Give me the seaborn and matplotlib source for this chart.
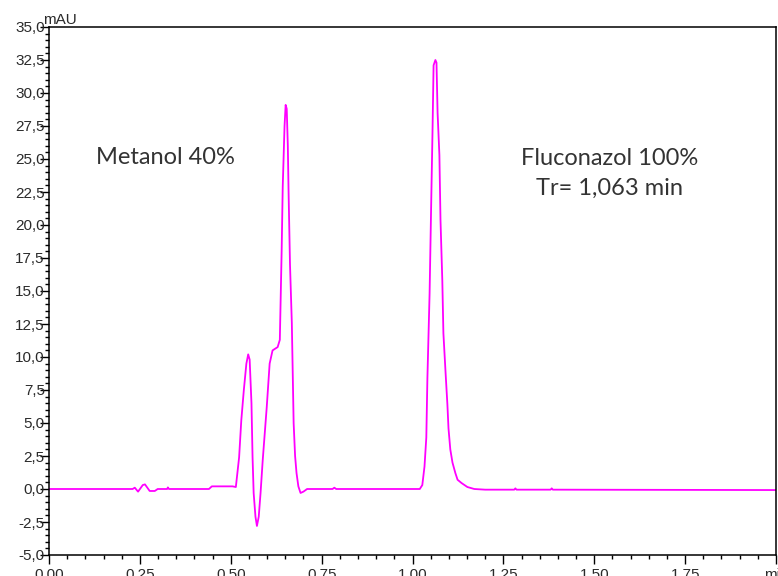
import matplotlib
matplotlib.use("Agg")
import matplotlib.pyplot as plt
import seaborn as sns
import pandas as pd
from matplotlib.ticker import MultipleLocator, FixedLocator

# ---- data ----
time_min = [0.0, 0.23, 0.236, 0.245, 0.258, 0.264, 0.277, 0.291, 0.299, 0.325, 0.327, 0.33,
            0.44, 0.448, 0.505, 0.514, 0.523, 0.529, 0.536, 0.543, 0.548, 0.552, 0.557,
            0.560, 0.563, 0.568, 0.572, 0.577, 0.582, 0.588, 0.599, 0.607, 0.615, 0.629,
            0.635, 0.640, 0.643, 0.648, 0.651, 0.654, 0.657, 0.659, 0.663, 0.668, 0.673,
            0.677, 0.681, 0.686, 0.692, 0.70, 0.71, 0.723, 0.78, 0.785, 0.79,
            1.02, 1.027, 1.033, 1.038, 1.041, 1.047, 1.052, 1.055, 1.058, 1.063, 1.066,
            1.069, 1.074, 1.077, 1.082, 1.085, 1.091, 1.096, 1.099, 1.104, 1.110, 1.118,
            1.124, 1.135, 1.151, 1.17, 1.2, 1.28, 1.283, 1.286, 1.38, 1.383, 1.386, 2.0]
signal_mau = [0.0, 0.0, 0.1, -0.2, 0.3, 0.35, -0.15, -0.15, 0.0, 0.0, 0.12, 0.0,
              0.0, 0.2, 0.2, 0.15, 2.4, 5.2, 7.5, 9.5, 10.2, 9.8, 6.5,
              2.4, -0.3, -2.1, -2.8, -2.1, -0.3, 2.2, 6.2, 9.5, 10.5, 10.75,
              11.3, 18.0, 22.9, 27.5, 29.1, 28.8, 26.0, 22.6, 17.0, 12.6, 5.0,
              2.5, 1.2, 0.2, -0.3, -0.2, 0.0, 0.0, 0.0, 0.1, 0.0,
              0.0, 0.3, 1.7, 3.9, 8.4, 14.8, 22.5, 27.0, 32.1, 32.5, 32.3,
              28.5, 25.3, 20.4, 15.8, 11.8, 8.8, 6.4, 4.6, 3.0, 2.0, 1.2,
              0.7, 0.45, 0.15, 0.0, -0.05, -0.05, 0.05, -0.05, -0.05, 0.05, -0.05, -0.08]

x_tick_values = [0.0, 0.25, 0.5, 0.75, 1.0, 1.25, 1.5, 1.75, 2.0]
x_tick_labels = ["0.00", "0.25", "0.50", "0.75", "1.00", "1.25", "1.50", "1.75", "min"]
y_tick_values = [-5.0, -2.5, 0.0, 2.5, 5.0, 7.5, 10.0, 12.5, 15.0, 17.5, 20.0,
                 22.5, 25.0, 27.5, 30.0, 32.5, 35.0]
y_tick_labels = ["-5,0", "-2,5", "0,0", "2,5", "5,0", "7,5", "10,0", "12,5", "15,0",
                 "17,5", "20,0", "22,5", "25,0", "27,5", "30,0", "32,5", "35,0"]
y_unit = "mAU"
label_left = "Metanol 40%"
label_right = "Fluconazol 100%\nTr= 1,063 min"

df = pd.DataFrame({"t": time_min, "mAU": signal_mau})

sns.set_style("white")
plt.rcParams["font.family"] = ["Liberation Sans", "DejaVu Sans"]

fig = plt.figure(figsize=(7.78, 5.76), dpi=100)
ax = fig.add_axes([49 / 778, 1 - 555 / 576, (776 - 49) / 778, (555 - 27) / 576])

sns.lineplot(data=df, x="t", y="mAU", color="#FF00FF", linewidth=1.3, ax=ax,
             estimator=None, sort=False)

ax.set_xlim(0, 2.0)
ax.set_ylim(-5, 35)
ax.set_xlabel("")
ax.set_ylabel("")

ax.xaxis.set_major_locator(FixedLocator(x_tick_values))
ax.set_xticklabels(x_tick_labels)
ax.xaxis.set_minor_locator(MultipleLocator(0.05))
ax.yaxis.set_major_locator(FixedLocator(y_tick_values))
ax.set_yticklabels(y_tick_labels)
ax.yaxis.set_minor_locator(MultipleLocator(0.5))

for s in ax.spines.values():
    s.set_visible(True)
    s.set_color("black")
    s.set_linewidth(1.1)

ax.tick_params(axis="both", which="major", direction="out", length=6.5, width=1.0,
               color="black", labelsize=11, labelcolor="#2a2a2a")
ax.tick_params(axis="both", which="minor", direction="out", length=3.2, width=1.0,
               color="black")
ax.tick_params(axis="y", which="major", pad=-3.5)
ax.tick_params(axis="x", which="major", pad=3)
ax.tick_params(left=True, bottom=True, top=False, right=False, which="both")

ax.text(-0.008, 1.0, y_unit, transform=ax.transAxes, ha="left", va="bottom",
        fontsize=11, color="#2a2a2a")

ax.text(0.321, 25.15, label_left, ha="center", va="center", fontsize=17,
        color="#333333", family=["Lato", "DejaVu Sans"])
ax.text(1.541, 23.9, label_right, ha="center", va="center", fontsize=17,
        color="#333333", family=["Lato", "DejaVu Sans"], linespacing=1.5)

fig.savefig("out.png", dpi=100)
